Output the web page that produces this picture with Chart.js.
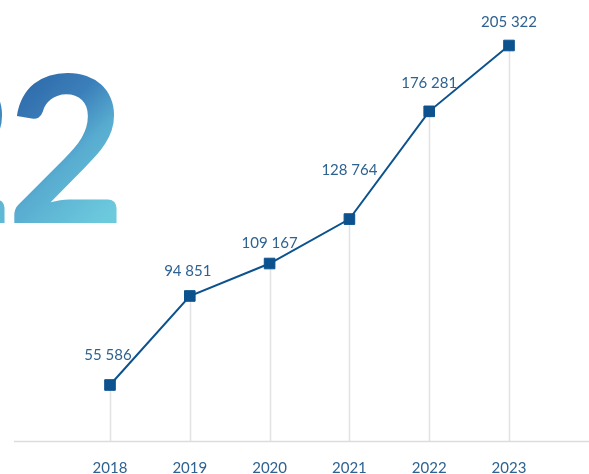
<!DOCTYPE html>
<html>
<head>
<meta charset="utf-8">
<script src="https://cdn.jsdelivr.net/npm/chart.js@4"></script>
<style>
  html, body { margin: 0; padding: 0; background: #fff; }
  #wrap { width: 589px; height: 474px; position: relative; }
</style>
</head>
<body>
<div id="wrap"><canvas id="chart"></canvas></div>
<script>
const years = ['2018', '2019', '2020', '2021', '2022', '2023']
const values = [55586, 94851, 109167, 128764, 176281, 205322]
const valueLabels = ['55 586', '94 851', '109 167', '128 764', '176 281', '205 322']

// label nudges (px) so the numbers sit clear of the line
const labelDx = [-2, -2, 0, 0, 0, 0]
const labelDy = [-30, -25, -20, -49, -28, -23]

const lineColor = '#0c528e'
const textColor = '#2e6291'
const ctx = document.getElementById('chart').getContext('2d')

const backdrop = {
    id: 'backdrop',
    beforeDraw(chart) {
        const c = chart.ctx
        c.save()
        c.font = 'bold 206px Lato'
        c.textAlign = 'right'
        c.textBaseline = 'alphabetic'
        const g = c.createLinearGradient(10, 80, 125, 200)
        g.addColorStop(0, '#2c66a7')
        g.addColorStop(0.35, '#3b7fba')
        g.addColorStop(0.6, '#58acd0')
        g.addColorStop(1, '#6ccadd')
        c.fillStyle = g
        c.fillText('2', 126, 223)
        const g2 = c.createLinearGradient(-100, 80, 10, 200)
        g2.addColorStop(0, '#2c66a7')
        g2.addColorStop(0.5, '#3b7fba')
        g2.addColorStop(1, '#5fb9d6')
        c.fillStyle = g2
        c.fillText('2', 14, 223)
        c.restore()
    },
    beforeDatasetsDraw(chart) {
        const c = chart.ctx
        const area = chart.chartArea
        const meta = chart.getDatasetMeta(0)
        c.save()
        c.strokeStyle = '#e2e2e2'
        c.lineWidth = 1.5
        meta.data.forEach(pt => {
            c.beginPath()
            c.moveTo(Math.round(pt.x) + 0.5, pt.y)
            c.lineTo(Math.round(pt.x) + 0.5, area.bottom)
            c.stroke()
        })
        c.strokeStyle = '#dcdcdc'
        c.beginPath()
        c.moveTo(14, area.bottom + 0.5)
        c.lineTo(589, area.bottom + 0.5)
        c.stroke()
        c.restore()
    },
    afterDatasetsDraw(chart) {
        const c = chart.ctx
        const meta = chart.getDatasetMeta(0)
        c.save()
        c.font = '15px Lato'
        c.fillStyle = textColor
        c.textAlign = 'center'
        c.textBaseline = 'middle'
        meta.data.forEach((pt, i) => {
            c.fillText(valueLabels[i], pt.x + labelDx[i], pt.y + labelDy[i])
        })
        c.restore()
    }
}

new Chart(ctx, {
    type: 'line',
    data: {
        labels: years,
        datasets: [{
            data: values,
            borderColor: lineColor,
            backgroundColor: lineColor,
            borderWidth: 2,
            pointStyle: 'rect',
            pointRadius: 7.5,
            pointBorderWidth: 1,
            pointHoverRadius: 7.5,
            tension: 0
        }]
    },
    options: {
        responsive: true,
        maintainAspectRatio: false,
        animation: false,
        layout: { padding: { left: 110, right: 80, top: 20, bottom: 0 } },
        plugins: {
            legend: { display: false },
            tooltip: { enabled: false }
        },
        scales: {
            x: {
                offset: false,
                grid: { display: false },
                border: { display: false },
                ticks: {
                    color: textColor,
                    font: { family: 'Lato', size: 15 },
                    padding: 10,
                    maxRotation: 0
                },
                afterFit: s => { s.height = 33 }
            },
            y: {
                display: false,
                min: 30887,
                max: 216569
            }
        }
    },
    plugins: [backdrop]
})
</script>
</body>
</html>
